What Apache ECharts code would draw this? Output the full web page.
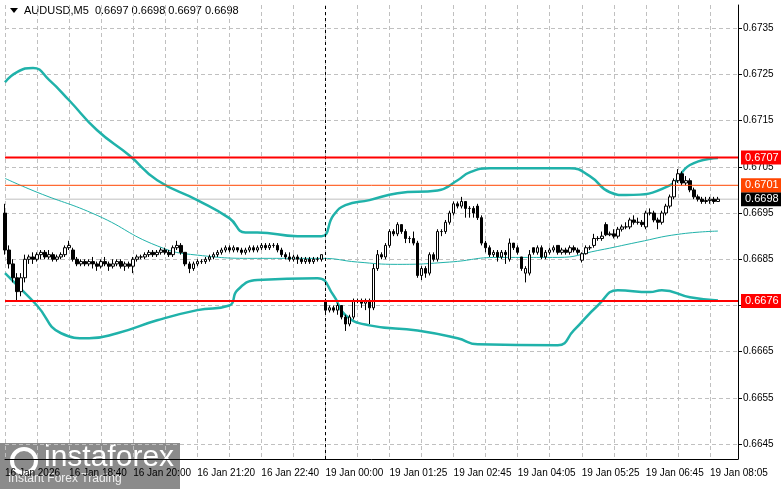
<!DOCTYPE html>
<html><head><meta charset="utf-8">
<script src="https://cdn.jsdelivr.net/npm/echarts@6/dist/echarts.min.js"></script>
<style>html,body{margin:0;padding:0;background:#fff}#c{width:781px;height:489px}</style>
</head><body><div id="c"></div>
<script>
// candles [open, close, low, high] in pips above 0.6600
const candlesPips = [
[95,87,86,97],[87,84,83,88],[84,81,80,85],[81,78,76,82],[78,81,77,82],[81,85,80,86],[85,85.5,84,86],[85.5,85,84,86.5],[85,86,84.5,86.5],[86,86.5,85,87],
[86.5,85.5,85,87],[85.5,86,85,87],[86,85,84.5,86.5],[85,85.5,84.5,86],[85.5,86,85,86.5],[86,87.5,85.5,88],[87.5,88,87,89],[87,85,84.5,87.5],[85,84,83.5,85.5],[84,84.5,83.5,85],
[84.5,84,83.5,85],[84,84.5,83.5,85],[84.5,84,83,85.5],[84,83.5,82.5,84.5],[83.5,84.5,83,85],[84.5,84,83.5,85.5],[84,83.5,82.5,84.5],[83.5,84,83,85],[84,84.5,83.5,85],[84.5,83.5,83,85],
[83.5,84,82.5,84.5],[84,83.5,83,84.5],[83.5,85,82,85.5],[85,85.5,84.5,86],[85.5,85.5,85,86],[85.5,86,85,86.5],[86,86.5,85.5,87],[86.5,86,85.5,87],[86,86.5,85.5,87],[86.5,87,86,87.5],
[87,86.5,86,87.5],[86.5,86,85.5,87],[86,87.5,85.5,88],[87.5,88,87,89],[88,86.5,86,88.5],[86.5,84,83.5,86.5],[84,83,82,84.5],[83,84,82.5,84.5],[84,84.5,83.5,85],[84.5,84.5,84,85],
[84.5,85,84,85.5],[85,85.5,84.5,86],[85.5,86,85,86.5],[86,86.5,85.5,87],[86.5,87,86,87.5],[87,87.5,86.5,88],[87.5,87,86.5,88],[87,87.5,86.5,88],[87.5,87,86.5,87.5],[87,86.5,86,87.5],
[86.5,87,86,87.5],[87,87.5,86.5,88],[87.5,87,86.5,88],[87,87.5,86.5,88],[87.5,88,87,88.5],[88,87.5,87,88.5],[87.5,88,87,88.5],[88,88,87.5,88.5],[88,87,86.5,88.5],[87,86,85.5,87.5],
[86,85.5,85,86.5],[85.5,85,84.5,86.5],[85,85.5,84.5,86],[85.5,85,84,86],[85,84.5,84,85.5],[84.5,85,84,85.5],[85,84.5,84,85.5],[84.5,85,84,85.5],[85,85,84.5,85.5],[85,86,84.5,86],
[76,74,73.5,76.5],[74,74.5,73.5,75],[74.5,74,73.5,75],[74,75,73,75.5],[75,72.5,72,75],[72.5,71,69.5,73],[71,72.5,70.5,73],[72.5,76,72,76.5],[76,76,75.5,76.5],[76,75.5,74.5,76.5],
[75.5,76,74,76.5],[76,74.5,71,76.5],[74.5,83,74,84],[83,86,82.5,87],[86,85.5,85,86.5],[85.5,88,85,88.5],[88,91,87.5,91.5],[91,90.5,90,91.5],[90.5,92.5,90,93],[92.5,91,90.5,92.5],
[91,89.5,88.5,91.5],[89.5,89.5,88.5,90],[89.5,88.5,88,91],[88.5,81.5,81,89],[81.5,83,80.5,83.5],[83,82,81,83.5],[82,86,81.5,86.5],[86,85,84.5,86.5],[85,91,84.5,91.5],[91,91,90,91.5],
[91,93,90.5,93.5],[93,95,92.5,95.5],[95,97,94.5,97.5],[97,96.5,96,97.5],[96.5,97.5,96,98.5],[97.5,96,94,97.5],[96,96,94,96.5],[96,95,94,96.5],[96.5,94,93.5,97],[94,88.5,88,94.5],
[88.5,87.5,86.5,89],[87.5,86,85.5,88],[86,86.5,85.5,87],[86.5,85.5,84.5,87],[85.5,86.5,85,87],[86.5,86,84,87],[85,88.5,84.5,89.5],[88.5,87.5,87,88.5],[87.5,86.5,86,88],[85.5,83,82.5,85.5],
[82,83,80,83.5],[82,86,81.5,87],[87.5,86.5,86,87.5],[86.5,87.5,86,88],[87.5,85.5,85,88],[85.5,86.5,85,87],[86.5,87,86,87.5],[87,87.5,86.5,88],[88,86.5,86,88],[86.5,87,86,87.5],
[87,86.5,86,87.5],[86.5,87.5,86,88],[87.5,87,86.5,88],[87,86.5,86,87.5],[84.8,86.2,84.3,86.5],[86.2,87.5,86,88],[87.5,87.5,87,88],[88,89.5,87.5,90.5],[89.5,89.5,89,90],[89.5,90,89,91],
[92.5,90.3,90,93],[90.3,90.5,90,91],[90.5,90,89.5,91.5],[90,91.5,89.5,92],[91.5,92,91,92.5],[92,92,91.5,93],[92,93.5,91.5,94],[93.5,93,92.5,94.5],[93,93,92.5,94],[93,92.5,92,93.5],
[92,95,91.5,95.5],[95,95,94.5,96],[95,93.5,93,95.5],[93.5,93,91.5,94],[93,95,92.5,95.5],[95,96.5,94.5,97],[96.5,98.5,96,99],[98.5,102,98,102.5],[102,103.5,101.5,104.5],[103.5,101.5,101,104],
[101.5,102,101,103],[102,100,99.5,102.5],[100,98.5,98,100.5],[98.5,98,97.5,99],[98,97.5,97,98.5],[97.5,97.7,97,98.5],[97.7,98,97,98.5],[98,97.5,97,98.5],[97.5,98,97.5,98.5]
];
const upperBand = [[0,123.3],[3,125.5],[7,126.4],[11,123.8],[16,119.4],[23,112.9],[31,107.5],[38,102.1],[48,97.8],[56,93.9],[60,90.8],[63,90.8],[73,90.0],[79,90.0],[82,94.5],[85,96.7],[91,97.8],[98,99.3],[108,99.9],[113,102.1],[116,103.8],[121,104.7],[141,104.7],[146,103.0],[151,99.5],[155,98.9],[166,101.0],[171,105.4],[178,106.9]];
const middleBand = [[0,102.5],[8,99.5],[23,94.5],[38,87.9],[48,85.9],[63,85.2],[79,85.2],[88,84.4],[98,83.9],[111,84.4],[123,85.4],[138,85.4],[148,86.9],[158,88.7],[168,90.4],[178,91.1]];
const lowerBand = [[0,82.0],[3,79.4],[8,75.0],[14,69.0],[21,67.9],[28,69.0],[38,71.8],[48,74.0],[56,75.0],[58,78.3],[63,80.5],[78,80.9],[82,77.2],[85,72.9],[91,70.7],[103,69.6],[113,67.9],[118,66.6],[138,66.4],[142,69.6],[148,75.0],[153,78.3],[161,77.9],[164,78.3],[171,76.8],[178,76.1]];
const yTicks = [0.6645,0.6655,0.6665,0.6675,0.6685,0.6695,0.6705,0.6715,0.6725,0.6735];
const levels = [{v:0.6707,c:'#ff0000',w:2,lab:'0.6707'},{v:0.6701,c:'#ff4500',w:1,lab:'0.6701'},{v:0.6698,c:'#c0c0c0',w:1,lab:'0.6698',bg:'#000'},{v:0.6676,c:'#ff0000',w:2,lab:'0.6676'}];
const xLabelMap = {0:'16 Jan 2026',16:'16 Jan 18:40',32:'16 Jan 20:00',48:'16 Jan 21:20',64:'16 Jan 22:40',80:'19 Jan 00:00',96:'19 Jan 01:25',112:'19 Jan 02:45',128:'19 Jan 04:05',144:'19 Jan 05:25',160:'19 Jan 06:45',176:'19 Jan 08:05'};
const N = 184;

const P = p => +(0.66 + p/10000).toFixed(5);
const categories = [];
for (let i=0;i<N;i++) categories.push(String(i));
const candleData = candlesPips.map(c => c.map(P));
const band = a => a.map(d => [d[0], P(d[1])]);

const chart = echarts.init(document.getElementById('c'));
const font = 'Liberation Sans';
const levelSeries = levels.map(l => ({
  type:'line', data:[[0,l.v],[N-1,l.v]], symbol:'none', silent:true, z:l.bg?1:5,
  lineStyle:{color:l.c,width:l.w},
  endLabel:{show:true,formatter:l.lab,color:'#fff',backgroundColor:l.bg||l.c,padding:[2,4,1,4],distance:3,fontFamily:font,fontSize:11}
}));
chart.setOption({
  animation:false,
  backgroundColor:'#fff',
  grid:{left:5,right:43,top:5,bottom:30},
  xAxis:{type:'category',data:categories,boundaryGap:false,
    axisLine:{lineStyle:{color:'#000'}},axisTick:{show:false},
    axisLabel:{interval:0,color:'#000',fontFamily:font,fontSize:10,align:'left',margin:9,
      formatter:(v,i)=>xLabelMap[i]||''},
    splitLine:{show:true,interval:7,lineStyle:{color:'#c0c0c0',type:[4,3]}}},
  yAxis:{type:'value',position:'right',min:0.66418,max:0.674,
    axisLine:{show:true,lineStyle:{color:'#000'}},
    axisTick:{show:true,customValues:yTicks,length:4,lineStyle:{color:'#000'}},
    axisLabel:{customValues:yTicks,color:'#000',fontFamily:font,fontSize:10,margin:5,formatter:v=>v.toFixed(4)},
    splitLine:{show:true,lineStyle:{color:'#c0c0c0',type:[4,3]}}},
  graphic:[
    {type:'polygon',shape:{points:[[10,8],[18,8],[14,13]]},style:{fill:'#000'}},
    {type:'text',left:24,top:5,style:{text:'AUDUSD,M5  0.6697 0.6698 0.6697 0.6698',font:'11px "Liberation Sans"',fill:'#000'}},
    {type:'rect',shape:{x:0,y:443,width:180,height:46},style:{fill:'rgba(90,90,90,0.7)'}},
    {type:'circle',shape:{cx:24,cy:461,r:12},style:{fill:'none',stroke:'#fff',lineWidth:4}},
    {type:'text',left:44,top:443,style:{text:'instaforex',font:'30px "Liberation Sans"',fill:'#fff'}},
    {type:'text',left:8,top:473,style:{text:'Instant Forex Trading',font:'12px "Liberation Sans"',fill:'#eee'}}
  ],
  series:[
    {type:'line',data:band(upperBand),smooth:true,symbol:'none',lineStyle:{color:'#20b2aa',width:2.5},z:2,
      markLine:{symbol:'none',silent:true,animation:false,data:[{xAxis:80}],lineStyle:{color:'#000',type:[3,3],width:1},label:{show:false}}},
    {type:'line',data:band(middleBand),smooth:true,symbol:'none',lineStyle:{color:'#20b2aa',width:1},z:2},
    {type:'line',data:band(lowerBand),smooth:true,symbol:'none',lineStyle:{color:'#20b2aa',width:2.5},z:2},
    {type:'candlestick',data:candleData,barWidth:3,z:3,
      itemStyle:{color:'#fff',color0:'#000',borderColor:'#000',borderColor0:'#000',borderWidth:1}}
  ].concat(levelSeries)
});
</script></body></html>
